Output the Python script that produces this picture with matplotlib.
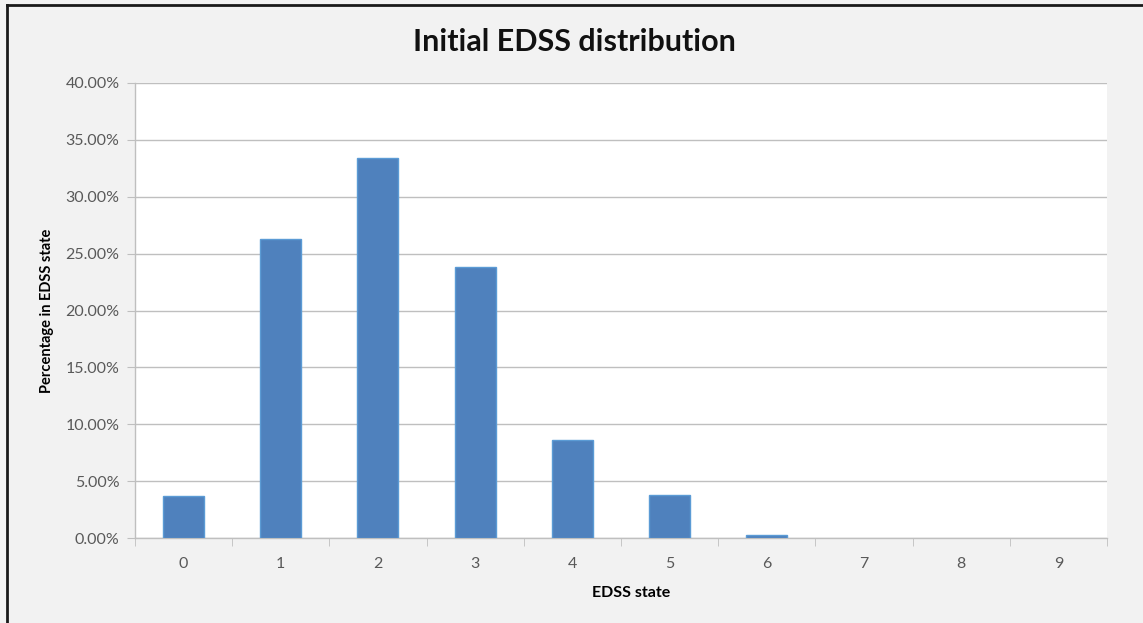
import matplotlib.pyplot as plt
import numpy as np
from matplotlib.lines import Line2D
from matplotlib.ticker import FuncFormatter

plt.rcParams['font.family'] = ['Lato', 'DejaVu Sans']

states = [0, 1, 2, 3, 4, 5, 6, 7, 8, 9]
pct = [3.7, 26.3, 33.4, 23.8, 8.6, 3.8, 0.25, 0.0, 0.0, 0.0]

fig = plt.figure(figsize=(11.43, 6.23), dpi=100)
fig.patch.set_facecolor('#F2F2F2')
ax = fig.add_axes([0.118, 0.1364, 0.8505, 0.7304])
ax.set_facecolor('white')

x = np.arange(len(states))
lw = [1.0 if v > 0 else 0 for v in pct]
ax.bar(x, pct, width=0.42, color='#4F81BD', edgecolor='#5B9BD5', linewidth=lw, zorder=3)

ax.set_xlim(-0.5, len(states) - 0.5)
ax.set_ylim(0, 40)
ax.set_yticks(np.arange(0, 41, 5))
ax.yaxis.set_major_formatter(FuncFormatter(lambda v, p: '%.2f%%' % v))
ax.set_xticks(x)
ax.set_xticklabels([str(s) for s in states])
ax.set_xticks(np.arange(-0.5, len(states), 1), minor=True)
ax.grid(axis='y', color='#BFBFBF', linewidth=1.0, zorder=0)

for s in ['top', 'right']:
    ax.spines[s].set_visible(False)
for s in ['left', 'bottom']:
    ax.spines[s].set_color('#BFBFBF')
    ax.spines[s].set_linewidth(1.0)

ax.tick_params(axis='y', length=6, color='#BFBFBF', labelsize=11.5, labelcolor='#595959', pad=5)
ax.tick_params(axis='x', which='major', length=0, labelsize=11.5, labelcolor='#595959', pad=14)
ax.tick_params(axis='x', which='minor', length=6, color='#BFBFBF')

ax.set_xlabel('EDSS state', fontsize=11.5, fontweight='bold', labelpad=8)
ax.xaxis.set_label_coords(0.51, -0.106)
ax.set_ylabel('Percentage in EDSS state', fontsize=10.5, fontweight='bold', labelpad=8)
fig.text(0.503, 0.933, 'Initial EDSS distribution', ha='center', va='center', fontsize=22,
         fontweight='bold', color='#111111')

# black border on left and top of the figure
fig.add_artist(Line2D([0.0065, 0.0065], [0, 0.992], color='#1A1A1A', linewidth=2, transform=fig.transFigure))
fig.add_artist(Line2D([0.0065, 1.0], [0.992, 0.992], color='#1A1A1A', linewidth=2, transform=fig.transFigure))

fig.savefig('out.png', dpi=100, facecolor=fig.get_facecolor())
